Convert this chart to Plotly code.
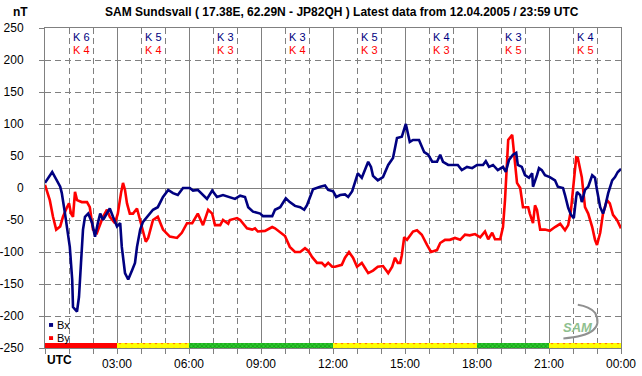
import plotly.graph_objects as go

# ---------------- data (minutes after 00:00 UTC, nT) ----------------
bx_min = [0, 18, 38, 42, 50, 62, 68, 70, 80, 85, 90, 95, 100, 108, 118, 125, 132, 138, 145, 162,
          170, 180, 188, 192, 200, 208, 218, 225, 230, 238, 245, 255, 270, 282, 295, 308, 320, 332, 345, 362,
          370, 382, 405, 418, 430, 445, 458, 475, 488, 500, 508, 520, 538, 545, 568, 575, 588, 602, 612, 625,
          638, 648, 655, 662, 670, 688, 700, 708, 720, 728, 738, 750, 758, 768, 775, 782, 792, 800, 808, 815,
          820, 832, 845, 858, 870, 880, 892, 902, 912, 920, 935, 948, 958, 968, 980, 988, 995, 1008, 1032, 1042,
          1055, 1068, 1080, 1095, 1102, 1110, 1120, 1132, 1145, 1152, 1160, 1170, 1178, 1182, 1192, 1200, 1210, 1218, 1220, 1230,
          1235, 1242, 1250, 1262, 1275, 1282, 1295, 1300, 1308, 1315, 1322, 1328, 1330, 1338, 1342, 1350, 1358, 1368, 1375, 1380,
          1388, 1395, 1400, 1408, 1418, 1425, 1432, 1440]
bx_val = [8, 25, 2, -8, -40, -92, -143, -186, -193, -170, -117, -65, -45, -40, -55, -76, -55, -40, -50, -32,
          -45, -60, -55, -92, -133, -143, -128, -117, -92, -65, -53, -45, -34, -30, -14, -3, -8, -11, 0, 0,
          -4, -3, -17, -4, -14, -11, -14, -17, -12, -14, -30, -37, -40, -44, -44, -34, -30, -16, -22, -28,
          -30, -34, -27, -14, -2, 2, 4, -3, -5, -14, -11, -10, -14, -5, 10, 23, 16, 28, 41, 33,
          19, 12, 17, 36, 47, 78, 80, 100, 72, 75, 75, 56, 52, 41, 41, 52, 41, 36, 36, 28,
          33, 31, 36, 36, 42, 33, 36, 28, 33, 25, 44, 52, 55, 36, 33, 20, 16, 23, 2, 20,
          31, 28, 20, 17, 12, 2, 0, -11, -31, -42, -47, -14, -6, -11, -22, -3, 2, 20, 16, -3,
          -30, -40, -30, -8, 12, 17, 25, 30]

by_min = [0, 12, 20, 28, 38, 45, 55, 60, 65, 70, 75, 80, 92, 105, 112, 120, 130, 138, 145, 155,
          162, 175, 182, 190, 195, 200, 205, 212, 220, 230, 238, 245, 252, 258, 270, 282, 295, 312, 330, 342,
          355, 368, 382, 395, 408, 418, 425, 438, 445, 458, 462, 480, 488, 505, 518, 525, 532, 550, 568, 575,
          588, 600, 612, 625, 638, 650, 658, 668, 680, 692, 700, 708, 718, 725, 742, 750, 760, 770, 780, 792,
          800, 808, 820, 832, 845, 858, 868, 875, 882, 888, 892, 898, 905, 920, 930, 942, 955, 965, 980, 988,
          1000, 1012, 1025, 1038, 1050, 1062, 1075, 1088, 1100, 1108, 1118, 1125, 1138, 1145, 1150, 1155, 1158, 1168, 1170, 1175,
          1180, 1188, 1195, 1208, 1212, 1220, 1225, 1230, 1238, 1250, 1262, 1275, 1288, 1300, 1308, 1315, 1320, 1328, 1332, 1342,
          1350, 1358, 1368, 1375, 1380, 1388, 1395, 1400, 1405, 1412, 1420, 1430, 1440]
by_val = [5, -19, -45, -65, -60, -45, -30, -24, -40, -45, -6, -19, -22, -22, -30, -65, -70, -55, -45, -34,
          -45, -55, -40, -8, 8, -3, -24, -40, -40, -32, -50, -70, -84, -78, -50, -45, -65, -76, -78, -70,
          -55, -55, -40, -58, -34, -40, -58, -58, -50, -56, -50, -47, -50, -63, -65, -63, -68, -67, -61, -63,
          -70, -75, -92, -100, -100, -94, -98, -108, -117, -117, -122, -117, -123, -123, -120, -109, -100, -109, -123, -117,
          -125, -133, -129, -123, -122, -133, -123, -109, -117, -117, -105, -77, -81, -68, -66, -73, -89, -100, -97, -86,
          -81, -81, -78, -81, -73, -74, -72, -77, -68, -80, -70, -80, -80, -61, -19, 33, 75, 83, 70, 44,
          8, 0, -30, -30, -40, -55, -27, -34, -65, -65, -67, -61, -56, -66, -58, -34, 2, 48, 47, 17,
          -30, -40, -61, -81, -89, -70, -40, -27, -19, -24, -42, -50, -63]

k_bx = [6, 5, 3, 3, 5, 4, 3, 4]
k_by = [4, 4, 3, 4, 3, 3, 5, 5]
status = ["red", "yellow", "green", "green", "yellow", "yellow", "green", "yellow"]
tick_vals = [0, 180, 360, 540, 720, 900, 1080, 1260, 1440]
tick_text = ["", "03:00", "06:00", "09:00", "12:00", "15:00", "18:00", "21:00", "00:00"]
y_tick_vals = [250, 200, 150, 100, 50, 0, -50, -100, -150, -200, -250]
y_tick_text = ["250", "200", "150", "100", "50", "0", "-50", "-100", "-150", "-200", "-250"]
block = 180

NAVY = "#000080"
RED = "#ff0000"
GRID = "#808080"
FONT = "Liberation Sans, Arial, sans-serif"

fig = go.Figure()

# status bar
styles = {
    "red": dict(color=RED),
    "yellow": dict(color="#ffff00", pattern=dict(shape=".", fgcolor=RED, bgcolor="#ffff00", size=6, solidity=0.15)),
    "green": dict(color="#22b022", pattern=dict(shape="x", fgcolor="#007000", bgcolor="#30d030", size=3, solidity=0.5)),
}
for lvl in ["red", "yellow", "green"]:
    xs = [block / 2 + block * i for i, s in enumerate(status) if s == lvl]
    fig.add_trace(go.Bar(x=xs, y=[8.5] * len(xs), base=-250, width=block,
                         marker=dict(line=dict(width=0), **styles[lvl]),
                         hoverinfo="skip", showlegend=False))

fig.add_trace(go.Scatter(x=by_min, y=by_val, mode="lines", line=dict(color=RED, width=2.6),
                         showlegend=False, hoverinfo="skip"))
fig.add_trace(go.Scatter(x=bx_min, y=bx_val, mode="lines", line=dict(color=NAVY, width=2.6),
                         showlegend=False, hoverinfo="skip"))

ann = []
for i, (a, b) in enumerate(zip(k_bx, k_by)):
    xc = block / 2 + block * i
    ann.append(dict(x=xc, y=0.972, xref="x", yref="paper", xanchor="center", yanchor="middle",
                    text=f"K {a}", showarrow=False, font=dict(color=NAVY, size=11, family=FONT)))
    ann.append(dict(x=xc, y=0.931, xref="x", yref="paper", xanchor="center", yanchor="middle",
                    text=f"K {b}", showarrow=False, font=dict(color=RED, size=11, family=FONT)))

ann += [
    dict(x=0.516, y=1.05, xref="paper", yref="paper", xanchor="center", yanchor="middle", showarrow=False,
         text="<b>SAM Sundsvall ( 17.38E, 62.29N - JP82QH ) Latest data from 12.04.2005 / 23:59 UTC</b>",
         font=dict(size=12, family=FONT, color="black")),
    dict(x=-0.0434, y=1.05, xref="paper", yref="paper", xanchor="center", yanchor="middle",
         showarrow=False, text="<b>nT</b>", font=dict(size=12, family=FONT, color="black")),
    dict(x=0, y=-0.038, xref="paper", yref="paper", xanchor="left", yanchor="middle", showarrow=False,
         text="<b>UTC</b>", font=dict(size=12, family=FONT, color="black")),
    dict(x=0.017, y=0.072, xref="paper", yref="paper", xanchor="left", yanchor="middle", showarrow=False,
         text="Bx", font=dict(size=11, family=FONT, color="black")),
    dict(x=0.017, y=0.031, xref="paper", yref="paper", xanchor="left", yanchor="middle", showarrow=False,
         text="By", font=dict(size=11, family=FONT, color="black")),
    dict(x=0.925, y=0.064, xref="paper", yref="paper", xanchor="center", yanchor="middle", showarrow=False,
         text="<b><i>SAM</i></b>", font=dict(size=13, family=FONT, color="#8fc08f")),
]

shapes = [
    dict(type="rect", xref="paper", yref="paper", x0=0.007, x1=0.014, y0=0.066, y1=0.078,
         fillcolor=NAVY, line=dict(width=0)),
    dict(type="rect", xref="paper", yref="paper", x0=0.007, x1=0.014, y0=0.025, y1=0.037,
         fillcolor=RED, line=dict(width=0)),
    dict(type="path", xref="paper", yref="paper",
         path="M 0.900,0.030 Q 0.975,0.040 0.955,0.110 Q 0.945,0.130 0.925,0.135",
         line=dict(color="#909090", width=2)),
]

fig.update_layout(
    width=642, height=376,
    margin=dict(l=45, r=21, t=28, b=28),
    paper_bgcolor="white", plot_bgcolor="white",
    barmode="overlay", bargap=0,
    annotations=ann, shapes=shapes,
    showlegend=False, hovermode=False,
    font=dict(family=FONT, size=12, color="black"),
    xaxis=dict(range=[0, 1440], tickvals=tick_vals, ticktext=tick_text, automargin=False,
               showgrid=True, gridcolor=GRID, gridwidth=1,
               ticks="outside", ticklen=5, tickcolor=GRID,
               minor=dict(dtick=60, tick0=0, showgrid=True, gridcolor=GRID, griddash="6px,4px",
                          ticks="outside", ticklen=5, tickcolor=GRID),
               showline=True, linecolor=GRID, mirror=True, zeroline=False,
               tickfont=dict(size=12, family=FONT, color="black")),
    yaxis=dict(range=[-250, 250], tickvals=y_tick_vals, ticktext=y_tick_text,
               showgrid=True, gridcolor=GRID, griddash="6px,4px",
               zeroline=True, zerolinecolor=GRID, zerolinewidth=1, automargin=False,
               showline=True, linecolor=GRID, mirror=True,
               ticks="outside", ticklen=5, tickcolor=GRID, ticklabelstandoff=13,
               tickfont=dict(size=12, family=FONT, color="black")),
)

fig.write_html("out.html", config={"displayModeBar": False},
               post_script="document.body.style.margin='0';document.body.style.overflow='hidden';")
